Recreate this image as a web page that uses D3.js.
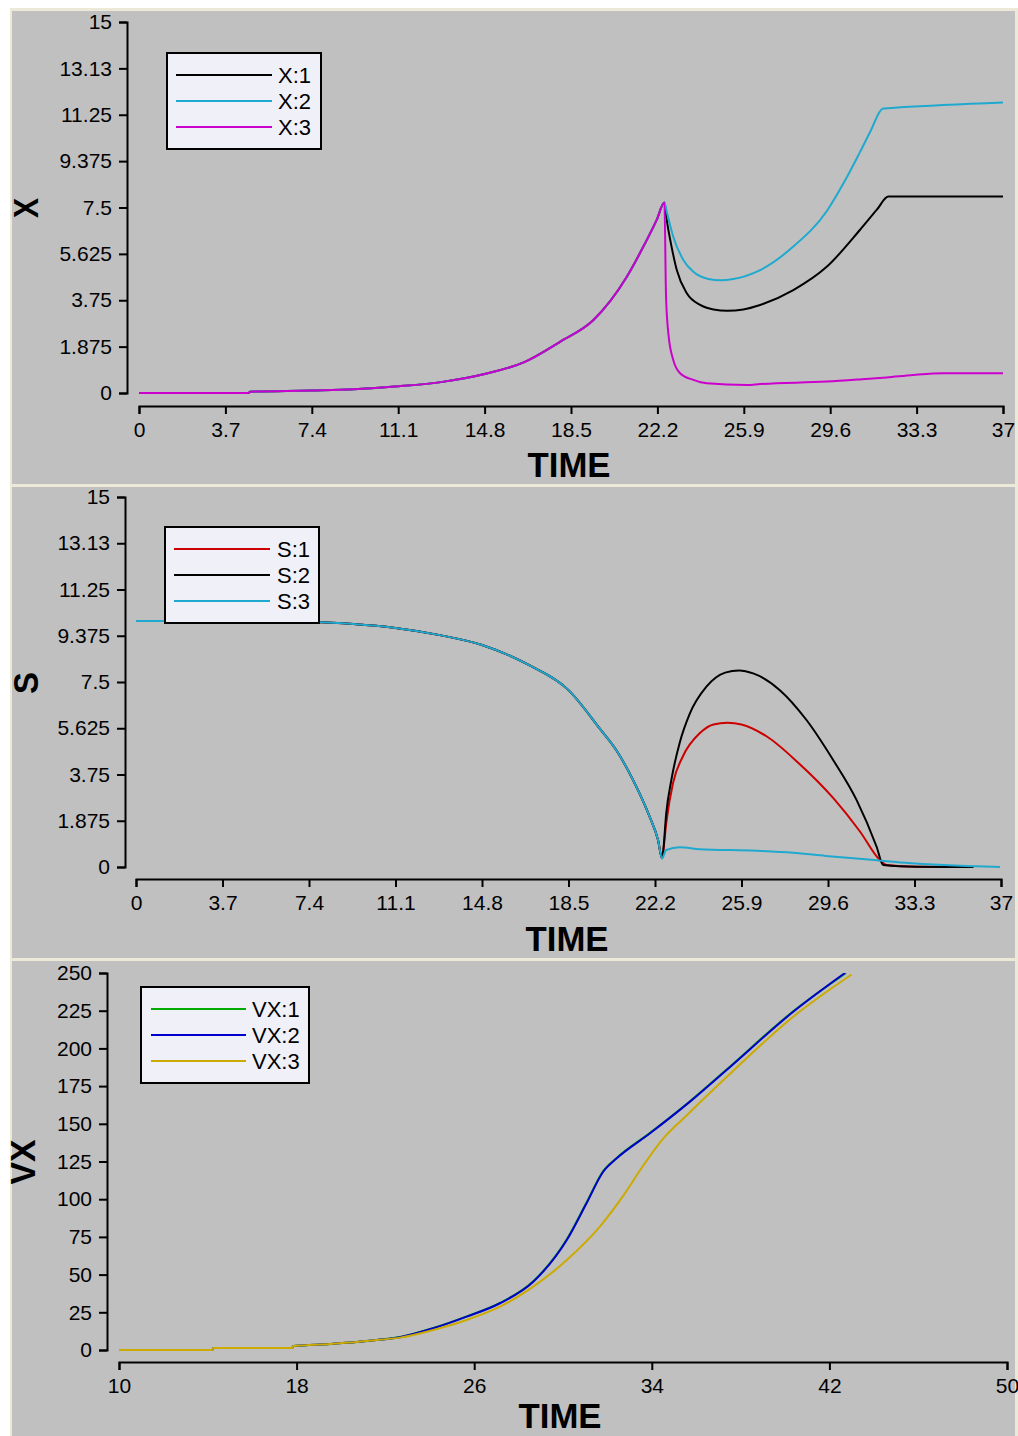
<!DOCTYPE html>
<meta charset="utf-8">
<style>

    html, body {
        margin: 0;
        padding: 0;
        background: #fff;
    }

    svg {
        display: block;
    }

    .axis path, .axis line {
        stroke: #000;
        stroke-width: 2px;
        fill: none;
    }

    .axis text {
        font: 21px "Liberation Sans", Arial, sans-serif;
        fill: #000;
    }

    .legend text {
        font: 22px "Liberation Sans", Arial, sans-serif;
        fill: #000;
    }

    .title {
        font: bold 35px "Liberation Sans", Arial, sans-serif;
        fill: #000;
    }

    .series {
        fill: none;
        stroke-width: 2px;
        stroke-linejoin: round;
    }

</style>
<body>
<div id="chart"></div>
<script src="https://d3js.org/d3.v7.min.js"></script>
<script>

    // ---- data: [time, value] ----

    // X panel (the three curves share the path up to the peak)
    var xRise = [[0, 0], [4.7, 0], [4.75, 0.05], [7.4, 0.1], [9.2, 0.15], [11.1, 0.27], [13, 0.45],
        [14.8, 0.77], [16.5, 1.25], [18.03, 2.07], [19.46, 2.95], [20.89, 4.7], [21.6, 5.92],
        [22.17, 7.0], [22.5, 7.7]];
    var x1After = [[22.6, 7.0], [22.81, 5.9], [23.03, 4.97], [23.46, 4.03], [24.03, 3.56], [24.6, 3.38],
        [25.2, 3.33], [25.88, 3.38], [26.6, 3.56], [28.02, 4.16], [29.45, 5.1], [30.88, 6.6], [31.59, 7.4],
        [32.09, 7.94], [33, 7.94], [37, 7.94]];
    var x2After = [[22.6, 7.33], [22.88, 6.32], [23.31, 5.38], [23.74, 4.9], [24.38, 4.61], [24.9, 4.56],
        [25.45, 4.61], [26.6, 4.97], [28.02, 5.92], [29.45, 7.35], [30.24, 8.6], [30.88, 9.75],
        [31.31, 10.55], [31.86, 11.5], [32.6, 11.55], [37, 11.75]];
    var x3After = [[22.57, 3.9], [22.67, 2.4], [22.88, 1.33], [23.17, 0.8], [23.74, 0.53], [24.31, 0.39],
        [26.03, 0.32], [26.6, 0.36], [29.45, 0.46], [30.88, 0.55], [32.02, 0.63], [33.16, 0.73],
        [34.45, 0.8], [37, 0.8]];

    // S panel
    var sFall = [[0, 9.97], [3.7, 9.97], [7.4, 9.93], [9.3, 9.85], [11.1, 9.69], [13, 9.4], [14.8, 9.0],
        [16.8, 8.19], [18.5, 7.17], [19.83, 5.62], [20.54, 4.74], [21.26, 3.53], [21.97, 2.04],
        [22.33, 1.09], [22.5, 0.35]];
    var s1After = [[22.54, 0.55], [22.68, 1.77], [22.97, 3.4], [23.4, 4.5], [24.11, 5.42], [24.7, 5.78],
        [25.3, 5.85], [25.9, 5.78], [26.97, 5.3], [28.3, 4.25], [29.82, 2.8], [30.96, 1.45], [31.82, 0.28],
        [32.11, 0.08], [33.39, 0.01], [35.82, 0]];
    var s2After = [[22.54, 0.55], [22.68, 2.17], [22.9, 3.53], [23.26, 5.05], [23.68, 6.2], [24.4, 7.31],
        [25.2, 7.88], [25.8, 7.97], [26.4, 7.85], [27.54, 7.17], [28.68, 5.96], [29.82, 4.34], [30.82, 2.72],
        [31.68, 0.82], [31.96, 0.08], [33.39, 0.01], [35.82, 0]];
    var s3After = [[22.68, 0.69], [23.26, 0.8], [24.11, 0.72], [26.54, 0.66], [28.1, 0.58], [29.5, 0.45],
        [31.2, 0.31], [32.9, 0.17], [35.5, 0.04], [36.96, 0]];

    // VX panel
    var vx1 = [[10, 0], [14.2, 0], [14.25, 1.3], [17.8, 1.3], [17.85, 2.6], [19.5, 4], [20.7, 5.3],
        [21.6, 6.6], [22.66, 8.6], [24.16, 14.6], [25.66, 22.3], [27.16, 31.2], [28.66, 45.6],
        [30.17, 73.4], [31.06, 97.8], [31.81, 118.6], [32.42, 127.4], [33.92, 144.0], [35.72, 165.0],
        [37.37, 186.0], [40.37, 224.6], [42.75, 250]];
    var vx2 = [[10, 0], [14.2, 0], [14.25, 1.3], [17.8, 1.3], [17.85, 2.6], [19.5, 4], [20.7, 5.3],
        [21.6, 6.6], [22.66, 8.5], [24.16, 14.4], [25.66, 22.1], [27.16, 31], [28.66, 45.3],
        [30.17, 72.9], [31.06, 97.3], [31.81, 118.2], [32.42, 127.1], [33.92, 143.7], [35.72, 164.7],
        [37.37, 185.7], [40.37, 224.3], [42.7, 250]];
    var vx3 = [[10, 0], [14.2, 0], [14.25, 1.3], [17.8, 1.3], [17.85, 2.6], [19.5, 4], [20.7, 5.3],
        [21.6, 6.6], [22.66, 8.2], [24.16, 13.3], [25.66, 19.9], [27.16, 28.7], [28.66, 42],
        [30.17, 59.7], [31.67, 82], [32.7, 102], [33.6, 122], [34.5, 140], [35.6, 156],
        [37.37, 181], [40.37, 221], [43.0, 249]];

    // ticks
    var xsTicks = [0, 1.875, 3.75, 5.625, 7.5, 9.375, 11.25, 13.125, 15];
    var xsTickLabels = ["0", "1.875", "3.75", "5.625", "7.5", "9.375", "11.25", "13.13", "15"];
    var timeTicks = [0, 3.7, 7.4, 11.1, 14.8, 18.5, 22.2, 25.9, 29.6, 33.3, 37];
    var vxTicks = [0, 25, 50, 75, 100, 125, 150, 175, 200, 225, 250];
    var vxTimeTicks = [10, 18, 26, 34, 42, 50];

    // legend names + colours
    var xNames = ["X:1", "X:2", "X:3"];
    var sNames = ["S:1", "S:2", "S:3"];
    var vxNames = ["VX:1", "VX:2", "VX:3"];
    var xColors = ["#000000", "#1fa9cf", "#cc00cc"];
    var sColors = ["#cc0000", "#000000", "#1fa9cf"];
    var vxColors = ["#00aa00", "#0000cc", "#ccaa00"];

    var svg = d3.select("#chart").append("svg")
        .attr("width", 1018)
        .attr("height", 1436);

    var panels = [
        {
            top: 8, bottom: 485, yLabel: "X", yLabelX: 25, yLabelY: 208, yLabelLen: 20,
            xDomain: [0, 37], xRange: [139, 1003], yDomain: [0, 15], yRange: [393, 22],
            yAxisX: 127, xAxisY: 406, xTicks: timeTicks, yTicks: xsTicks, yLabels: xsTickLabels,
            titleX: 569, titleY: 477,
            series: [xRise.concat(x1After), xRise.concat(x2After), xRise.concat(x3After)],
            names: xNames, colors: xColors,
            legend: {x: 167, y: 53, w: 154, h: 96, lx0: 176, lx1: 272, tx: 278, ly: [75, 101, 127]}
        },
        {
            top: 484, bottom: 959, yLabel: "S", yLabelX: 25, yLabelY: 683, yLabelLen: 22,
            xDomain: [0, 37], xRange: [136, 1001], yDomain: [0, 15], yRange: [867, 497],
            yAxisX: 125, xAxisY: 879, xTicks: timeTicks, yTicks: xsTicks, yLabels: xsTickLabels,
            titleX: 567, titleY: 951,
            series: [sFall.concat(s1After), sFall.concat(s2After), sFall.concat(s3After)],
            names: sNames, colors: sColors,
            legend: {x: 165, y: 527, w: 154, h: 96, lx0: 174, lx1: 270, tx: 277, ly: [549, 575, 601]}
        },
        {
            top: 958, bottom: 1436, yLabel: "VX", yLabelX: 22, yLabelY: 1162, yLabelLen: 45,
            xDomain: [10, 50], xRange: [119, 1007], yDomain: [0, 250], yRange: [1350, 973],
            yAxisX: 107, xAxisY: 1362, xTicks: vxTimeTicks, yTicks: vxTicks, yLabels: null,
            titleX: 560, titleY: 1428,
            series: [vx1, vx2, vx3],
            names: vxNames, colors: vxColors,
            legend: {x: 141, y: 987, w: 168, h: 96, lx0: 151, lx1: 246, tx: 252, ly: [1009, 1035, 1061]}
        }
    ];

    panels.forEach(function(p, i) {
        // panel frame
        svg.append("rect")
            .attr("x", 10).attr("y", p.top)
            .attr("width", 1008).attr("height", p.bottom - p.top)
            .attr("fill", "#ece9d8");
        svg.append("rect")
            .attr("x", 12).attr("y", p.top + 3)
            .attr("width", 1003).attr("height", p.bottom - p.top - 3)
            .attr("fill", "#c0c0c0");

        var x = d3.scaleLinear().domain(p.xDomain).range(p.xRange),
            y = d3.scaleLinear().domain(p.yDomain).range(p.yRange);

        var yAxis = d3.axisLeft(y)
            .tickValues(p.yTicks)
            .tickSize(8)
            .tickPadding(7)
            .tickFormat(function(d, j) { return p.yLabels ? p.yLabels[j] : d; });

        var xAxis = d3.axisBottom(x)
            .tickValues(p.xTicks)
            .tickSize(8)
            .tickPadding(8)
            .tickFormat(function(d) { return d; });

        svg.append("g")
            .attr("class", "axis")
            .attr("transform", "translate(" + p.yAxisX + ",0)")
            .call(yAxis);

        svg.append("g")
            .attr("class", "axis")
            .attr("transform", "translate(0," + p.xAxisY + ")")
            .call(xAxis);

        // keep the lines inside the plot
        svg.append("defs").append("clipPath")
            .attr("id", "clip" + i)
            .append("rect")
            .attr("x", p.xRange[0] - 2)
            .attr("y", p.yRange[1])
            .attr("width", p.xRange[1] - p.xRange[0] + 4)
            .attr("height", p.yRange[0] - p.yRange[1] + 4);

        var line = d3.line()
            .curve(d3.curveMonotoneX)
            .x(function(d) { return x(d[0]); })
            .y(function(d) { return y(d[1]); });

        svg.append("g")
            .attr("clip-path", "url(#clip" + i + ")")
            .selectAll("path")
            .data(p.series)
            .enter().append("path")
            .attr("class", "series")
            .attr("stroke", function(d, j) { return p.colors[j]; })
            .attr("d", line);

        // axis titles
        svg.append("text")
            .attr("class", "title")
            .attr("x", p.titleX)
            .attr("y", p.titleY)
            .attr("text-anchor", "middle")
            .attr("textLength", 83)
            .attr("lengthAdjust", "spacingAndGlyphs")
            .text("TIME");

        svg.append("text")
            .attr("class", "title")
            .attr("transform", "translate(" + p.yLabelX + "," + p.yLabelY + ") rotate(-90)")
            .attr("text-anchor", "middle")
            .attr("dy", "0.36em")
            .attr("textLength", p.yLabelLen)
            .attr("lengthAdjust", "spacingAndGlyphs")
            .text(p.yLabel);

        // legend box
        var lg = p.legend;
        var legend = svg.append("g").attr("class", "legend");
        legend.append("rect")
            .attr("x", lg.x).attr("y", lg.y)
            .attr("width", lg.w).attr("height", lg.h)
            .attr("fill", "#f0f0f9")
            .attr("stroke", "#000")
            .attr("stroke-width", 2);

        var item = legend.selectAll("g.item")
            .data(p.names)
            .enter().append("g")
            .attr("class", "item");

        item.append("line")
            .attr("x1", lg.lx0).attr("x2", lg.lx1)
            .attr("y1", function(d, j) { return lg.ly[j]; })
            .attr("y2", function(d, j) { return lg.ly[j]; })
            .attr("stroke", function(d, j) { return p.colors[j]; })
            .attr("stroke-width", 2);

        item.append("text")
            .attr("x", lg.tx)
            .attr("y", function(d, j) { return lg.ly[j]; })
            .attr("dy", "0.36em")
            .text(function(d) { return d; });
    });

</script>
</body>
